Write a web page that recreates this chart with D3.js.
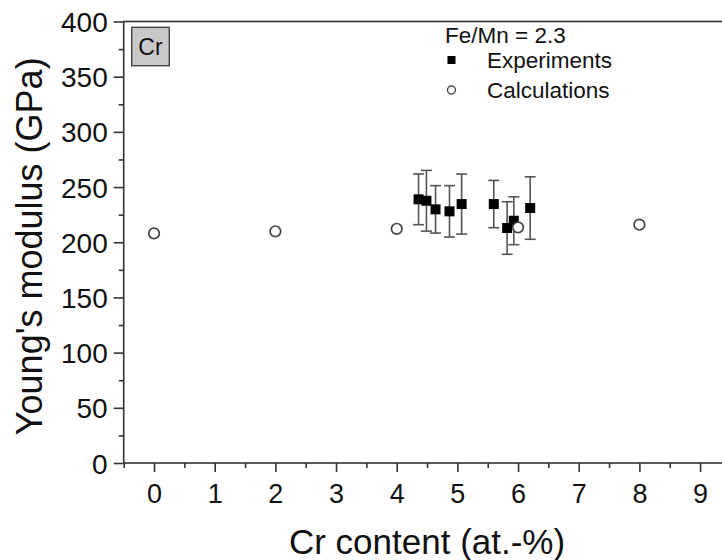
<!DOCTYPE html>
<html>
<head>
<meta charset="utf-8">
<script src="https://cdn.jsdelivr.net/npm/d3@7"></script>
<style>
  html, body { margin: 0; padding: 0; background: #fff; }
  svg { display: block; font-family: "Liberation Sans", Arial, sans-serif; }
</style>
</head>
<body>
<svg id="chart" width="722" height="560"></svg>
<script>
// values
const expX = [4.36, 4.49, 4.64, 4.87, 5.07, 5.60, 5.82, 5.93, 6.20];
const expY = [238.9, 237.6, 229.8, 228.0, 234.6, 234.6, 212.9, 219.5, 231.0];
const expErr = [23, 27.5, 21.5, 23.3, 27.2, 21.4, 23.8, 21.7, 28.3];

const calcX = [0, 2, 4, 6, 8];
const calcY = [208, 209.9, 212.2, 213.5, 215.9];

const xTicks = [0, 1, 2, 3, 4, 5, 6, 7, 8, 9];
const yTicks = [0, 50, 100, 150, 200, 250, 300, 350, 400];

const svg = d3.select('#chart');
const axisColor = '#333';

const x = d3.scaleLinear().domain([-0.5, 9.5]).range([123.7, 730.4]);
const y = d3.scaleLinear().domain([0, 400]).range([463, 21.5]);

// frame (right side falls outside the picture, as in the original)
svg.append('rect')
  .attr('x', x(-0.5)).attr('y', y(400))
  .attr('width', x(9.5) - x(-0.5)).attr('height', y(0) - y(400))
  .attr('fill', 'none').attr('stroke', axisColor).attr('stroke-width', 1.6);

// x axis
const xMinor = d3.range(-0.5, 9.51, 0.5).filter(v => !xTicks.includes(v));
const gx = svg.append('g').attr('transform', `translate(0,${y(0)})`);
gx.call(d3.axisBottom(x).tickValues(xMinor).tickSize(5).tickFormat(''));
gx.call(g => g.selectAll('.domain').remove());
const gxMaj = svg.append('g').attr('transform', `translate(0,${y(0)})`)
  .call(d3.axisBottom(x).tickValues(xTicks).tickSize(9).tickPadding(12).tickFormat(d3.format('d')));
gxMaj.select('.domain').remove();
svg.selectAll('g.tick line').attr('stroke', axisColor).attr('stroke-width', 1.6);
gxMaj.selectAll('text').attr('font-size', 27).attr('fill', '#111').attr('font-family', null);

// y axis
const yMinor = d3.range(25, 400, 50);
const gy = svg.append('g').attr('transform', `translate(${x(-0.5)},0)`);
gy.call(d3.axisLeft(y).tickValues(yMinor).tickSize(5).tickFormat(''));
gy.select('.domain').remove();
const gyMaj = svg.append('g').attr('transform', `translate(${x(-0.5)},0)`)
  .call(d3.axisLeft(y).tickValues(yTicks).tickSize(10).tickPadding(6));
gyMaj.select('.domain').remove();
svg.selectAll('g.tick line').attr('stroke', axisColor).attr('stroke-width', 1.6);
gyMaj.selectAll('text').attr('font-size', 28).attr('fill', '#111').attr('dy', '0.36em').attr('font-family', null);
svg.selectAll('g').attr('font-family', null);

// axis titles
svg.append('text')
  .attr('x', (x(0) + x(9)) / 2).attr('y', 554)
  .attr('text-anchor', 'middle').attr('font-size', 35).attr('fill', '#111')
  .text('Cr content (at.-%)');
svg.append('text')
  .attr('transform', `translate(42,${(y(0) + y(400)) / 2 + 4}) rotate(-90)`)
  .attr('text-anchor', 'middle').attr('font-size', 36).attr('fill', '#111')
  .text("Young's modulus (GPa)");

// error bars
const eb = svg.append('g').attr('stroke', '#555').attr('stroke-width', 1.6);
expX.forEach((xv, i) => {
  const lo = expY[i] - expErr[i], hi = expY[i] + expErr[i];
  eb.append('line').attr('x1', x(xv)).attr('x2', x(xv)).attr('y1', y(lo)).attr('y2', y(hi));
  eb.append('line').attr('x1', x(xv) - 5.5).attr('x2', x(xv) + 5.5).attr('y1', y(lo)).attr('y2', y(lo));
  eb.append('line').attr('x1', x(xv) - 5.5).attr('x2', x(xv) + 5.5).attr('y1', y(hi)).attr('y2', y(hi));
});

// experiments
svg.append('g').selectAll('rect')
  .data(expX.map((xv, i) => ({ x: xv, y: expY[i] })))
  .enter().append('rect')
  .attr('x', d => x(d.x) - 5).attr('y', d => y(d.y) - 5)
  .attr('width', 10).attr('height', 10)
  .attr('fill', '#000');

// calculations
svg.append('g').selectAll('circle')
  .data(calcX.map((xv, i) => ({ x: xv, y: calcY[i] })))
  .enter().append('circle')
  .attr('cx', d => x(d.x)).attr('cy', d => y(d.y)).attr('r', 5.3)
  .attr('fill', '#fff').attr('stroke', '#444').attr('stroke-width', 1.7);

// "Cr" label box
svg.append('rect')
  .attr('x', 131.7).attr('y', 27.3).attr('width', 37.6).attr('height', 38.4)
  .attr('fill', '#c9c9c9').attr('stroke', '#444').attr('stroke-width', 1.4);
svg.append('text')
  .attr('x', 150.5).attr('y', 55).attr('text-anchor', 'middle')
  .attr('font-size', 23).attr('fill', '#111').text('Cr');

// legend
const legend = svg.append('g').attr('font-size', 22.5).attr('fill', '#111');
legend.append('text').attr('x', 445).attr('y', 43).text('Fe/Mn = 2.3');
legend.append('rect').attr('x', 447.5).attr('y', 56).attr('width', 8).attr('height', 8).attr('fill', '#000');
legend.append('text').attr('x', 487).attr('y', 67.5).text('Experiments');
legend.append('circle').attr('cx', 451.5).attr('cy', 90).attr('r', 4)
  .attr('fill', '#fff').attr('stroke', '#444').attr('stroke-width', 1.4);
legend.append('text').attr('x', 487).attr('y', 97.5).text('Calculations');
</script>
</body>
</html>
